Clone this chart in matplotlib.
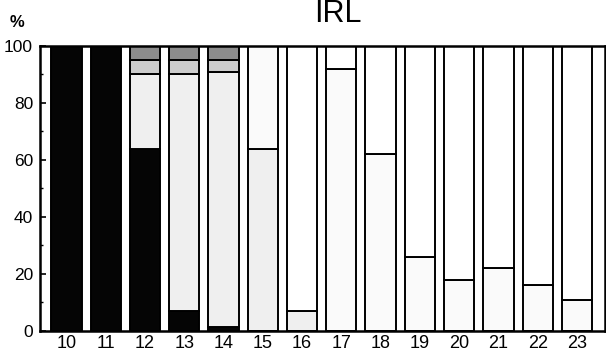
import numpy as np
import matplotlib.pyplot as plt
from matplotlib.ticker import MultipleLocator

plt.rcParams['font.family'] = ['Liberation Sans', 'DejaVu Sans']

# years (x categories) and stacked shares in %
years = [10, 11, 12, 13, 14, 15, 16, 17, 18, 19, 20, 21, 22, 23]
black = [100, 100, 64, 7, 1.5, 0, 0, 0, 0, 0, 0, 0, 0, 0]
light = [0, 0, 26, 83, 89.5, 64, 7, 0, 0, 0, 0, 0, 0, 0]
pale = [0, 0, 0, 0, 0, 36, 0, 92, 62, 26, 18, 22, 16, 11]
medium = [0, 0, 5, 5, 4, 0, 0, 0, 0, 0, 0, 0, 0, 0]
dark = [0, 0, 5, 5, 5, 0, 0, 0, 0, 0, 0, 0, 0, 0]
white = [0, 0, 0, 0, 0, 0, 93, 8, 38, 74, 82, 78, 84, 89]

series = [black, light, pale, medium, dark, white]
colors = ['#050505', '#efefef', '#fafafa', '#cccccc', '#8c8c8c', '#ffffff']

fig = plt.figure(figsize=(6.06, 3.51), dpi=100)
ax = fig.add_axes([0.066, 0.057, 0.932, 0.812])

x = np.array(years)
bottom = np.zeros(len(years))
for vals, c in zip(series, colors):
    vals = np.array(vals, dtype=float)
    mask = vals > 0
    ax.bar(x[mask], vals[mask], bottom=bottom[mask], width=0.77,
           color=c, edgecolor='black', linewidth=1.4)
    bottom += vals

ax.set_xlim(9.325, 23.71)
ax.set_ylim(0, 100)
ax.set_xticks(years)
ax.yaxis.set_major_locator(MultipleLocator(20))
ax.yaxis.set_minor_locator(MultipleLocator(10))
ax.tick_params(axis='x', length=0, pad=3, labelsize=13)
ax.tick_params(axis='y', which='major', direction='in', length=4, width=1.2,
               pad=5, labelsize=12.5)
ax.tick_params(axis='y', which='minor', direction='in', length=2, width=1)
for s in ax.spines.values():
    s.set_linewidth(1.8)

fig.text(0.558, 1 - 22 / 351, 'IRL', ha='center', va='baseline', fontsize=22)
fig.text(17 / 606, 1 - 27 / 351, '%', ha='center', va='baseline',
         fontsize=12, fontweight='bold')

fig.savefig('out.png', dpi=100)
